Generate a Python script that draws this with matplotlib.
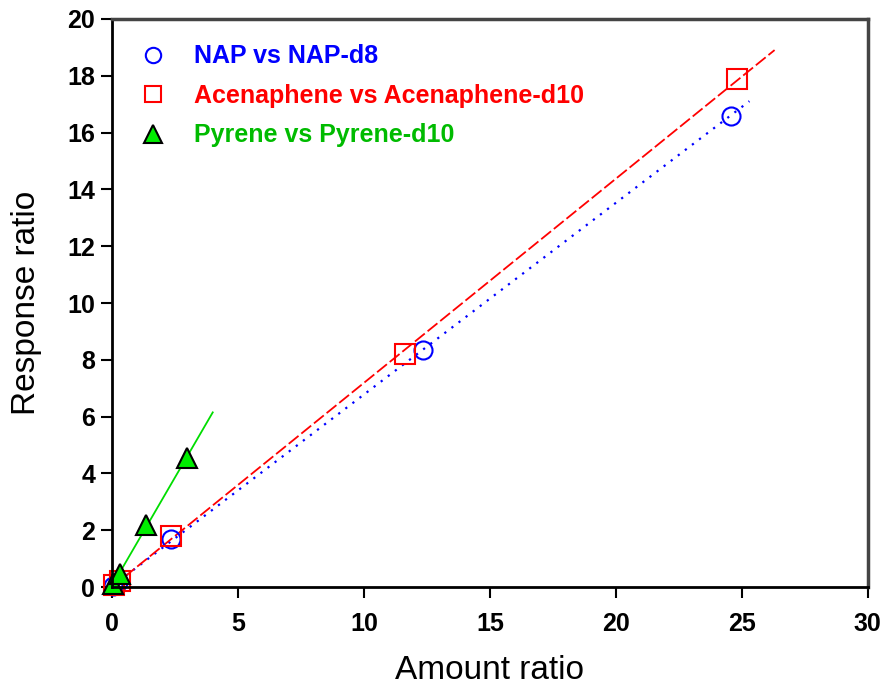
import numpy as np
import matplotlib
matplotlib.use("Agg")
import matplotlib.pyplot as plt

plt.rcParams['font.family'] = ['Liberation Sans', 'DejaVu Sans']

# amount ratio / response ratio
nap_x = [0.05, 0.25, 2.35, 12.35, 24.55]
nap_y = [0.03, 0.17, 1.68, 8.35, 16.6]
ace_x = [0.08, 0.3, 2.35, 11.65, 24.8]
ace_y = [0.06, 0.22, 1.78, 8.2, 17.9]
pyr_x = [0.05, 0.3, 1.35, 2.98]
pyr_y = [0.1, 0.45, 2.2, 4.55]

labels = ["NAP vs NAP-d8", "Acenaphene vs Acenaphene-d10", "Pyrene vs Pyrene-d10"]
fit_ends = [25.3, 26.3, 4.0]

fig = plt.figure(figsize=(8.83, 6.98), dpi=100)
ax = fig.add_axes([0.1268, 0.159, 0.856, 0.8138])

def fit_line(xs, ys, xmax):
    k, b = np.polyfit(xs, ys, 1)
    xx = np.array([0, xmax])
    return xx, k * xx + b

xx, yy = fit_line(nap_x, nap_y, fit_ends[0])
ax.plot(xx, yy, color='blue', ls=(0, (1, 3)), lw=1.6)
xx, yy = fit_line(ace_x, ace_y, fit_ends[1])
ax.plot(xx, yy, color='red', ls=(0, (7, 2)), lw=1.3)
xx, yy = fit_line(pyr_x, pyr_y, fit_ends[2])
ax.plot(xx, yy, color='#00dd00', lw=1.3)

ax.plot(nap_x, nap_y, 'o', ms=13, mfc='none', mec='blue', mew=1.5, label=labels[0], clip_on=False)
ax.plot(ace_x, ace_y, 's', ms=14, mfc='none', mec='red', mew=1.5, label=labels[1], clip_on=False)
ax.plot(pyr_x, pyr_y, '^', ms=15, mfc='#00ee00', mec='black', mew=1.5, label=labels[2], clip_on=False)

ax.set_xlim(0, 30)
ax.set_ylim(0, 20)
ax.set_xticks(range(0, 31, 5))
ax.set_yticks(range(0, 21, 2))
ax.tick_params(direction='out', length=8, width=1.5, labelsize=18, top=False, right=False)
for t in ax.get_xticklabels() + ax.get_yticklabels():
    t.set_fontweight('bold')
ax.tick_params(axis='x', pad=10)
ax.tick_params(axis='y', pad=4)

for s in ['left', 'bottom']:
    ax.spines[s].set_linewidth(2)
    ax.spines[s].set_color('black')
for s in ['top', 'right']:
    ax.spines[s].set_linewidth(2.5)
    ax.spines[s].set_color('#444444')

ax.set_xlabel('Amount ratio', fontsize=24, labelpad=14)
ax.set_ylabel('Response ratio', fontsize=24, labelpad=18)

leg = ax.legend(loc='upper left', bbox_to_anchor=(0.0, 0.995), frameon=False,
                prop={'weight': 'bold', 'size': 18}, labelcolor=['blue', 'red', '#00bb00'],
                handletextpad=0.9, labelspacing=0.62, markerscale=0.85, handlelength=1.5)

fig.savefig('out.png', dpi=100)
